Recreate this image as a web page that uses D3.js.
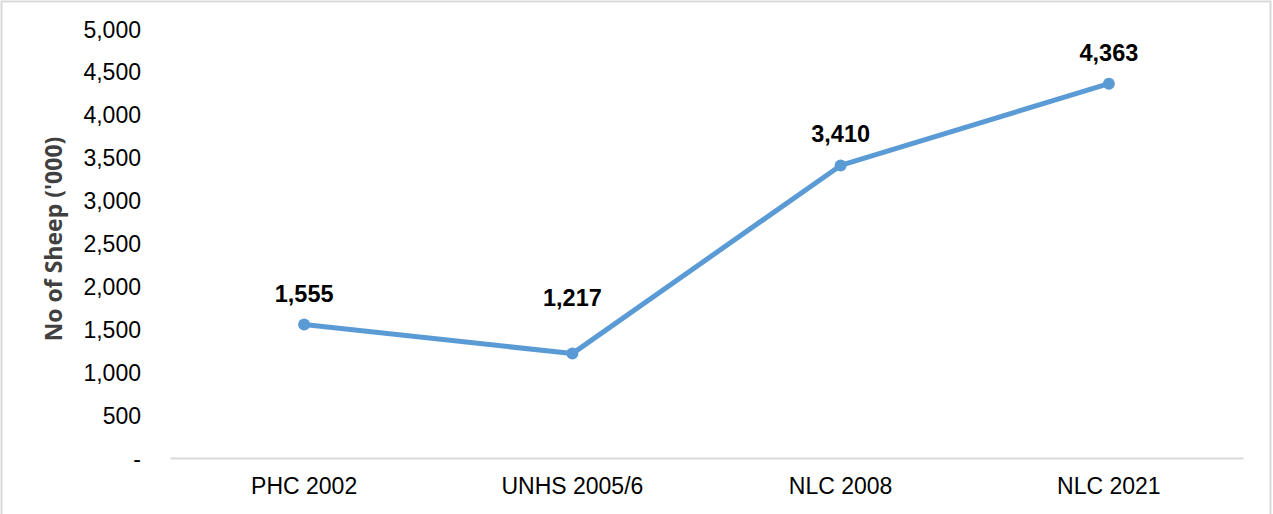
<!DOCTYPE html>
<html>
<head>
<meta charset="utf-8">
<script src="https://cdn.jsdelivr.net/npm/d3@7"></script>
<style>
  html, body { margin: 0; padding: 0; background: #fff; }
  svg { display: block; }
</style>
</head>
<body>
<svg id="chart" width="1273" height="514"></svg>
<script>
const categories = ["PHC 2002", "UNHS 2005/6", "NLC 2008", "NLC 2021"];
const sheepValues = [1555, 1217, 3410, 4363];
const yTickValues = [0, 500, 1000, 1500, 2000, 2500, 3000, 3500, 4000, 4500, 5000];
const yAxisTitle = "No of Sheep ('000)";

const svg = d3.select("#chart");

// layout: default label lift above point, with one label placed higher
const defaultLift = 23;
const customLift = { "UNHS 2005/6": 48 };

// outer border
svg.append("rect")
  .attr("x", 1.5).attr("y", 1.5)
  .attr("width", 1269).attr("height", 520)
  .attr("fill", "none").attr("stroke", "#d9d9d9").attr("stroke-width", 2);

const x = d3.scaleBand().domain(categories).range([170, 1243]).padding(0);
const y = d3.scaleLinear().domain([0, 5000]).range([458, 29]);

const fmt = d3.format(",");
const font = "'Liberation Sans', Arial, sans-serif";

// y axis (labels only)
const yAxis = d3.axisLeft(y).tickValues(yTickValues)
  .tickFormat(d => d === 0 ? "-" : fmt(d)).tickSize(0).tickPadding(0);
const gy = svg.append("g").attr("transform", "translate(141,0)").call(yAxis);
gy.select(".domain").remove();
gy.selectAll("text")
  .attr("font-family", font).attr("font-size", "23px").attr("fill", "#000")
  .attr("dy", "0.35em");

// x axis
const xAxis = d3.axisBottom(x).tickSize(0).tickPadding(0);
const gx = svg.append("g").attr("transform", "translate(0,458)").call(xAxis);
gx.select(".domain").attr("stroke", "#d9d9d9").attr("stroke-width", 2);
gx.selectAll("text")
  .attr("font-family", font).attr("font-size", "23px").attr("fill", "#000")
  .attr("dy", "0").attr("y", 36);

// y axis title
svg.append("text")
  .attr("transform", "translate(62,239) rotate(-90)")
  .attr("text-anchor", "middle")
  .attr("font-family", "'Open Sans', sans-serif")
  .attr("font-weight", "bold")
  .attr("font-size", "23px")
  .attr("fill", "#404040")
  .text(yAxisTitle);

const cx = d => x(d) + x.bandwidth() / 2;
const data = categories.map((c, i) => ({ c, v: sheepValues[i] }));

// line
svg.append("path")
  .datum(data)
  .attr("fill", "none")
  .attr("stroke", "#5b9bd5")
  .attr("stroke-width", 5)
  .attr("stroke-linejoin", "round")
  .attr("d", d3.line().x(d => cx(d.c)).y(d => y(d.v)));

// markers
svg.selectAll("circle.pt").data(data).enter().append("circle")
  .attr("class", "pt")
  .attr("cx", d => cx(d.c)).attr("cy", d => y(d.v))
  .attr("r", 6).attr("fill", "#5b9bd5");

// data labels
svg.selectAll("text.lbl").data(data).enter().append("text")
  .attr("class", "lbl")
  .attr("x", d => cx(d.c))
  .attr("y", d => y(d.v) - (customLift[d.c] || defaultLift))
  .attr("text-anchor", "middle")
  .attr("font-family", font).attr("font-weight", "bold")
  .attr("font-size", "23.5px").attr("fill", "#000")
  .text(d => fmt(d.v));
</script>
</body>
</html>
